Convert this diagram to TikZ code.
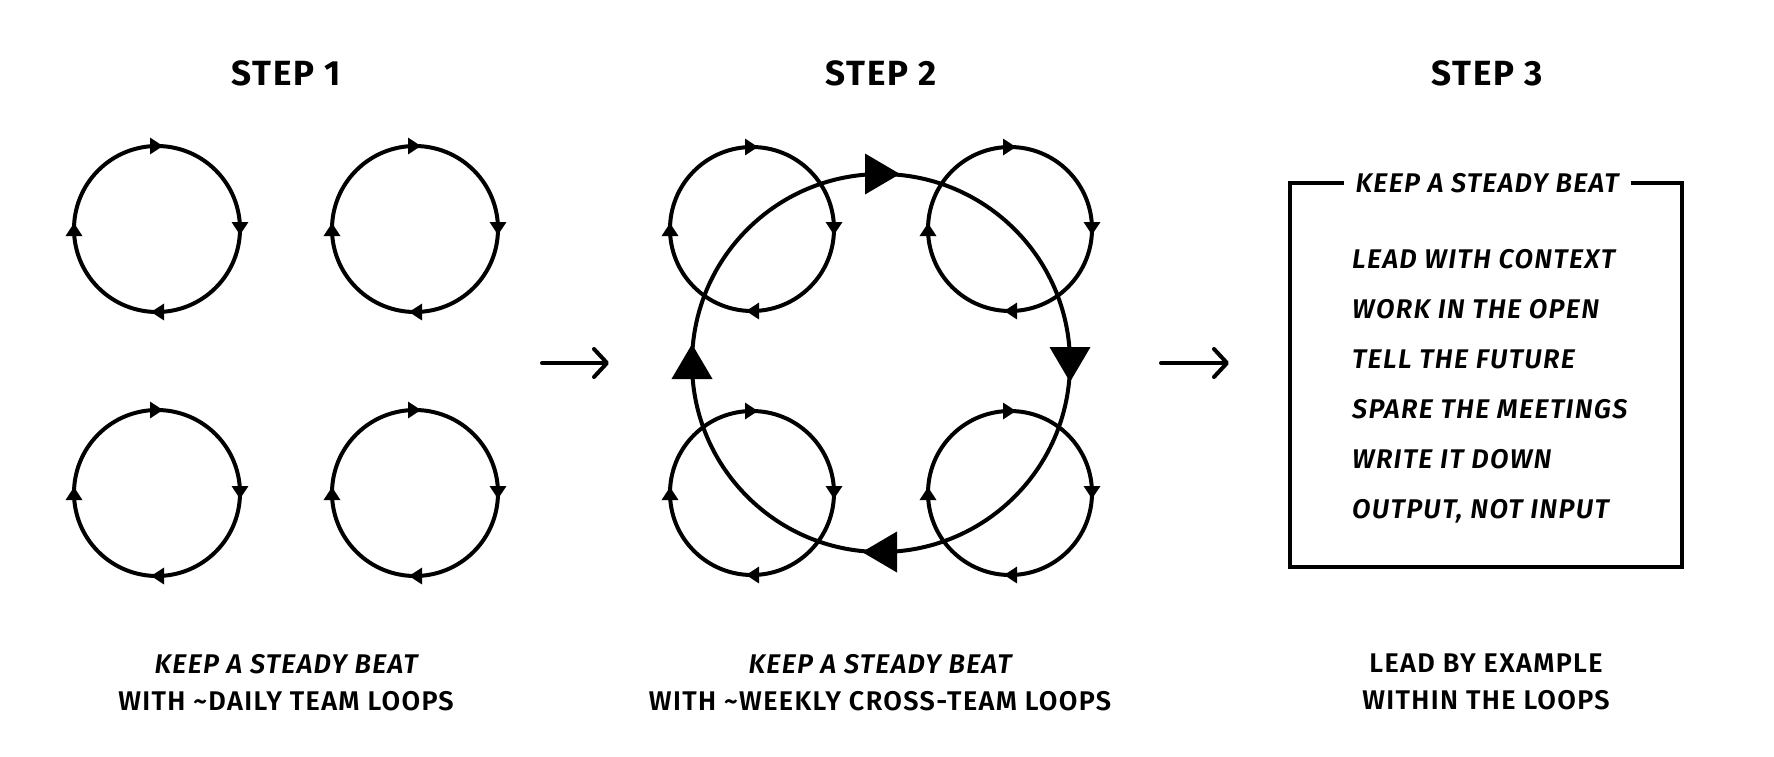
\documentclass[tikz,border=0pt]{standalone}
\usepackage{fontspec}
\setmainfont{Fira Sans}[UprightFont=* SemiBold, ItalicFont=* SemiBold Italic, BoldFont=* Bold, LetterSpace=5]
\usetikzlibrary{arrows.meta, decorations.markings, positioning}

\begin{document}
\begin{tikzpicture}[x=1pt, y=-1pt, >=Triangle]
    % Styles
    \tikzstyle{title} = [font=\bfseries\fontsize{35}{40}\selectfont, anchor=base, inner sep=0pt]
    \tikzstyle{caption} = [font=\fontsize{27}{30}\selectfont, anchor=base, inner sep=0pt]
    \tikzstyle{item} = [font=\itshape\fontsize{27}{30}\selectfont, anchor=base west, inner sep=0pt]
    \tikzstyle{teamloop} = [line width=4pt, postaction=decorate, decoration={markings,
        mark=between positions 0.125 and 1 step 0.25 with {\arrow[xshift=6pt]{Triangle[length=13pt, width=16pt]}}}]
    \tikzstyle{crossloop} = [line width=4pt, postaction=decorate, decoration={markings,
        mark=between positions 0.125 and 1 step 0.25 with {\arrow[xshift=19pt]{Triangle[length=35pt, width=40pt]}}}]
    \tikzstyle{stepArrow} = [line width=4pt, line cap=round, -{Straight Barb[length=13pt, width=28pt, line cap=round, line join=round]}]

    \useasboundingbox (0,0) rectangle (1774,756);

    % Titles
    \node[title] (title1) at (286,85) {STEP 1};
    \node[title] (title2) at (881,85) {STEP 2};
    \node[title] (title3) at (1487,85) {STEP 3};

    % Step 1: team loops
    \coordinate (a1) at (157,229);
    \coordinate (a2) at (415,229);
    \coordinate (a3) at (157,493);
    \coordinate (a4) at (415,493);
    \draw[teamloop] (a1) ++(-45:83) arc (-45:315:83);
    \draw[teamloop] (a2) ++(-45:83) arc (-45:315:83);
    \draw[teamloop] (a3) ++(-45:83) arc (-45:315:83);
    \draw[teamloop] (a4) ++(-45:83) arc (-45:315:83);

    % Step 2: team loops inside a cross-team loop
    \coordinate (b1) at (752,229);
    \coordinate (b2) at (1010,229);
    \coordinate (b3) at (752,493);
    \coordinate (b4) at (1010,493);
    \coordinate (hub) at (881,363);
    \draw[teamloop] (b1) ++(-45:82) arc (-45:315:82);
    \draw[teamloop] (b2) ++(-45:82) arc (-45:315:82);
    \draw[teamloop] (b3) ++(-45:82) arc (-45:315:82);
    \draw[teamloop] (b4) ++(-45:82) arc (-45:315:82);
    \draw[crossloop] (hub) ++(-45:189) arc (-45:315:189);

    % Step 3: principles box
    \draw[line width=4pt] (1290,183) rectangle (1682,567);
    \node[font=\itshape\fontsize{27}{30}\selectfont, anchor=base, fill=white, inner xsep=12pt, inner ysep=0pt] (boxTitle) at (1487,192) {KEEP A STEADY BEAT};
    \node[item] (p1) at (1352,268) {LEAD WITH CONTEXT};
    \node[item] (p2) at (1352,318) {WORK IN THE OPEN};
    \node[item] (p3) at (1352,368) {TELL THE FUTURE};
    \node[item] (p4) at (1352,418) {SPARE THE MEETINGS};
    \node[item] (p5) at (1352,468) {WRITE IT DOWN};
    \node[item] (p6) at (1352,518) {OUTPUT, NOT INPUT};

    % Arrows between steps
    \coordinate (s1) at (542,363);
    \coordinate (e1) at (609,363);
    \coordinate (s2) at (1161,363);
    \coordinate (e2) at (1229,363);
    \draw[stepArrow] (s1) -- (e1);
    \draw[stepArrow] (s2) -- (e2);

    % Captions
    \node[caption, font=\itshape\fontsize{27}{30}\selectfont] (cap1a) at (286,673) {KEEP A STEADY BEAT};
    \node[caption] (cap1b) at (286,710) {WITH \textasciitilde DAILY TEAM LOOPS};
    \node[caption, font=\itshape\fontsize{27}{30}\selectfont] (cap2a) at (880,673) {KEEP A STEADY BEAT};
    \node[caption] (cap2b) at (880,710) {WITH \textasciitilde WEEKLY CROSS-TEAM LOOPS};
    \node[caption] (cap3a) at (1486,672) {LEAD BY EXAMPLE};
    \node[caption] (cap3b) at (1486,709) {WITHIN THE LOOPS};
\end{tikzpicture}
\end{document}
